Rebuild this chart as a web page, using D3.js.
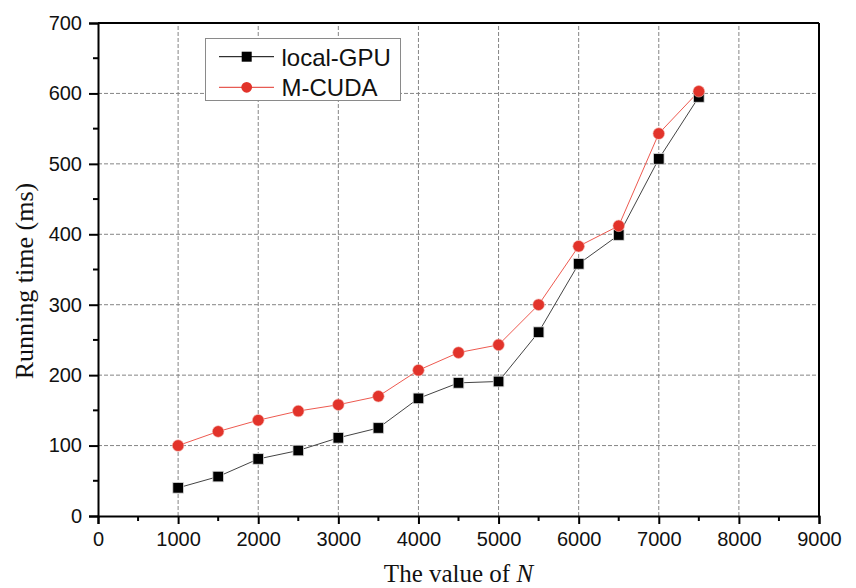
<!DOCTYPE html>
<html>
<head>
<meta charset="utf-8">
<script src="https://cdn.jsdelivr.net/npm/d3@7"></script>
<style>
  body { margin: 0; background: #fff; }
  #viz svg { display: block; }
</style>
</head>
<body>
<div id="viz"></div>
<script>
const WIDTH = 856, HEIGHT = 588;

// data
const sizes = [1000, 1500, 2000, 2500, 3000, 3500, 4000, 4500, 5000, 5500, 6000, 6500, 7000, 7500];
const localGPU = [40, 56, 81, 93, 111, 125, 167, 189, 191, 261, 358, 399, 507, 595];
const mCUDA = [100, 120, 136, 149, 158, 170, 207, 232, 243, 300, 383, 412, 543, 603];
const xTicks = [0, 1000, 2000, 3000, 4000, 5000, 6000, 7000, 8000, 9000];
const yTicks = [0, 100, 200, 300, 400, 500, 600, 700];

const COLORS = { black: "#000", red: "#e2332a", redLine: "#ee5a50", grid: "#858585" };

const margin = { top: 23, right: 37, bottom: 72, left: 98 };
const x = d3.scaleLinear().domain([0, 9000]).range([margin.left, WIDTH - margin.right]);
const y = d3.scaleLinear().domain([0, 700]).range([HEIGHT - margin.bottom, margin.top]);

const svg = d3.select("#viz").append("svg")
  .attr("width", WIDTH)
  .attr("height", HEIGHT)
  .attr("viewBox", `0 0 ${WIDTH} ${HEIGHT}`);

// grid
const grid = svg.append("g")
  .attr("stroke", COLORS.grid)
  .attr("stroke-width", 1)
  .attr("stroke-dasharray", "4,2");
grid.selectAll("line.vx")
  .data(xTicks.filter(d => d > 0 && d < 9000))
  .join("line")
  .attr("x1", d => x(d)).attr("x2", d => x(d))
  .attr("y1", y(0)).attr("y2", y(700));
grid.selectAll("line.hy")
  .data(yTicks.filter(d => d > 0 && d < 700))
  .join("line")
  .attr("x1", x(0)).attr("x2", x(9000))
  .attr("y1", d => y(d)).attr("y2", d => y(d));

// frame (top, right)
svg.append("line")
  .attr("x1", x(0)).attr("x2", x(9000)).attr("y1", y(700)).attr("y2", y(700))
  .attr("stroke", "#000").attr("stroke-width", 2);
svg.append("line")
  .attr("x1", x(9000)).attr("x2", x(9000)).attr("y1", y(700)).attr("y2", y(0))
  .attr("stroke", "#000").attr("stroke-width", 2);

// axes
const xAxis = svg.append("g")
  .attr("transform", `translate(0,${y(0)})`)
  .call(d3.axisBottom(x).tickValues(xTicks).tickSize(8).tickPadding(8).tickFormat(d3.format("d")));
const yAxis = svg.append("g")
  .attr("transform", `translate(${x(0)},0)`)
  .call(d3.axisLeft(y).tickValues(yTicks).tickSize(9).tickPadding(7).tickFormat(d3.format("d")));

// minor ticks
xAxis.selectAll("line.minor")
  .data(d3.range(500, 9000, 1000))
  .join("line")
  .attr("class", "minor")
  .attr("x1", d => x(d)).attr("x2", d => x(d))
  .attr("y1", 0).attr("y2", 5);
yAxis.selectAll("line.minor")
  .data(d3.range(50, 700, 100))
  .join("line")
  .attr("class", "minor")
  .attr("x1", 0).attr("x2", -5)
  .attr("y1", d => y(d)).attr("y2", d => y(d));

[xAxis, yAxis].forEach(g => {
  g.select(".domain").attr("stroke", "#000").attr("stroke-width", 2);
  g.selectAll("line").attr("stroke", "#000").attr("stroke-width", 2);
  g.selectAll("text")
    .attr("fill", "#111")
    .style("font-family", "'Liberation Sans', Arial, sans-serif")
    .style("font-size", "20px");
});

// series lines
const line = (vals) => d3.line()
  .x((d, i) => x(sizes[i]))
  .y(d => y(d))(vals);

svg.append("path")
  .attr("d", line(localGPU))
  .attr("fill", "none")
  .attr("stroke", "#444")
  .attr("stroke-width", 1);
svg.append("path")
  .attr("d", line(mCUDA))
  .attr("fill", "none")
  .attr("stroke", COLORS.redLine)
  .attr("stroke-width", 1);

// markers
svg.selectAll("rect.gpu")
  .data(localGPU)
  .join("rect")
  .attr("class", "gpu")
  .attr("x", (d, i) => x(sizes[i]) - 5.3)
  .attr("y", d => y(d) - 5.3)
  .attr("width", 10.6)
  .attr("height", 10.6)
  .attr("fill", "#000")
  .attr("stroke", "#d8d8d8")
  .attr("stroke-width", 0.8);
svg.selectAll("circle.cuda")
  .data(mCUDA)
  .join("circle")
  .attr("class", "cuda")
  .attr("cx", (d, i) => x(sizes[i]))
  .attr("cy", d => y(d))
  .attr("r", 5.8)
  .attr("fill", COLORS.red)
  .attr("stroke", "#f4b8b2")
  .attr("stroke-width", 0.6);

// legend
const legend = svg.append("g");
legend.append("rect")
  .attr("x", 205.5).attr("y", 38.5)
  .attr("width", 195).attr("height", 62)
  .attr("fill", "#fff")
  .attr("stroke", "#8a8a8a")
  .attr("stroke-width", 1);
const legendItems = [
  { name: "local-GPU", color: "#000", shape: "square", cy: 56.7 },
  { name: "M-CUDA", color: COLORS.red, shape: "circle", cy: 87.3 }
];
legendItems.forEach(item => {
  legend.append("line")
    .attr("x1", 219).attr("x2", 274)
    .attr("y1", item.cy).attr("y2", item.cy)
    .attr("stroke", item.color)
    .attr("stroke-width", 1);
  if (item.shape === "square") {
    legend.append("rect")
      .attr("x", 246.7 - 5).attr("y", item.cy - 5)
      .attr("width", 10).attr("height", 10)
      .attr("fill", item.color);
  } else {
    legend.append("circle")
      .attr("cx", 246.7).attr("cy", item.cy)
      .attr("r", 5.4)
      .attr("fill", item.color);
  }
  legend.append("text")
    .attr("x", 281.5)
    .attr("y", item.cy + 8.8)
    .attr("fill", "#111")
    .style("font-family", "'Liberation Sans', Arial, sans-serif")
    .style("font-size", "24px")
    .text(item.name);
});

// axis titles
const xTitle = svg.append("text")
  .attr("x", (x(0) + x(9000)) / 2)
  .attr("y", 582)
  .attr("text-anchor", "middle")
  .attr("fill", "#111")
  .style("font-family", "'Liberation Serif', 'Times New Roman', serif")
  .style("font-size", "25px");
xTitle.append("tspan").text("The value of ");
xTitle.append("tspan").style("font-style", "italic").text("N");

svg.append("text")
  .attr("transform", `translate(33,281) rotate(-90)`)
  .attr("text-anchor", "middle")
  .attr("fill", "#111")
  .style("font-family", "'Liberation Serif', 'Times New Roman', serif")
  .style("font-size", "26px")
  .text("Running time (ms)");
</script>
</body>
</html>
